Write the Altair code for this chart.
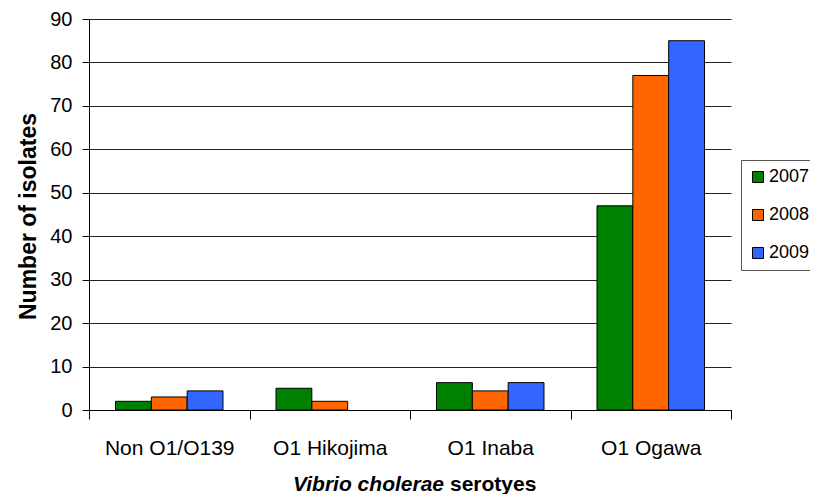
import altair as alt
import pandas as pd

categories = ["Non O1/O139", "O1 Hikojima", "O1 Inaba", "O1 Ogawa"]
years = ["2007", "2008", "2009"]
v2007 = [2, 5, 6.3, 47]
v2008 = [3, 2, 4.4, 77]
v2009 = [4.4, 0, 6.3, 85]
colors = ["#008000", "#FF6600", "#3366FF"]
y_ticks = [0, 10, 20, 30, 40, 50, 60, 70, 80, 90]

rows = []
for i, c in enumerate(categories):
    for yr, vals in zip(years, [v2007, v2008, v2009]):
        rows.append({"serotype": c, "year": yr, "count": vals[i]})
df = pd.DataFrame(rows)

FONT = "Liberation Sans"

bars = alt.Chart(df).mark_bar(stroke="black", strokeWidth=1).encode(
    x=alt.X(
        "serotype:N",
        sort=categories,
        scale=alt.Scale(domain=categories, paddingInner=0, paddingOuter=0),
        axis=alt.Axis(
            title=None, labelAngle=0, labelFontSize=21, labelFont=FONT,
            labelColor="black", tickBand="extent", tickSize=9, tickColor="black",
            domainColor="black", labelPadding=18, grid=False,
        ),
    ),
    xOffset=alt.XOffset("year:N", scale=alt.Scale(domain=years, paddingOuter=0.74, paddingInner=0)),
    y=alt.Y(
        "count:Q",
        scale=alt.Scale(domain=[0, 90], nice=False),
        axis=alt.Axis(
            values=y_ticks, title="Number of isolates", titleFontSize=23,
            titleFontWeight="bold", titleFont=FONT, titleColor="black",
            titleX=-61, titleY=197, titleAngle=270, titleAlign="center",
            titleBaseline="middle",
            labelFontSize=20, labelFont=FONT, labelColor="black",
            tickSize=7, tickColor="black", labelPadding=10,
            domainColor="black", gridColor="#222222", gridWidth=1,
        ),
    ),
    strokeOpacity=alt.condition("datum.count > 0", alt.value(1), alt.value(0)),
    color=alt.Color(
        "year:N",
        scale=alt.Scale(domain=years, range=colors),
        legend=alt.Legend(
            title=None, orient="none", legendX=652, legendY=141,
            symbolType="square", symbolSize=121, symbolStrokeColor="black",
            symbolStrokeWidth=1, labelFontSize=18, labelFont=FONT,
            labelColor="black", labelOffset=2, rowPadding=20, padding=8,
            strokeColor="#555555", fillColor="white",
        ),
    ),
)

t1 = alt.Chart(pd.DataFrame({"t": ["Vibrio cholerae"]})).mark_text(
    align="right", baseline="alphabetic", fontSize=21, fontWeight="bold",
    fontStyle="italic", font=FONT, color="black",
).encode(text="t:N", x=alt.value(355), y=alt.value(472))

t2 = alt.Chart(pd.DataFrame({"t": ["serotyes"]})).mark_text(
    align="left", baseline="alphabetic", fontSize=21, fontWeight="bold",
    font=FONT, color="black",
).encode(text="t:N", x=alt.value(361), y=alt.value(472))

chart = alt.layer(bars, t1, t2).properties(
    width=642, height=391,
    autosize=alt.AutoSizeParams(type="none"),
    padding={"left": 81, "top": 11, "right": 79, "bottom": 84},
    background="white",
).configure_view(stroke=None)

chart.save("out.html", embed_options={"renderer": "svg", "actions": False})
